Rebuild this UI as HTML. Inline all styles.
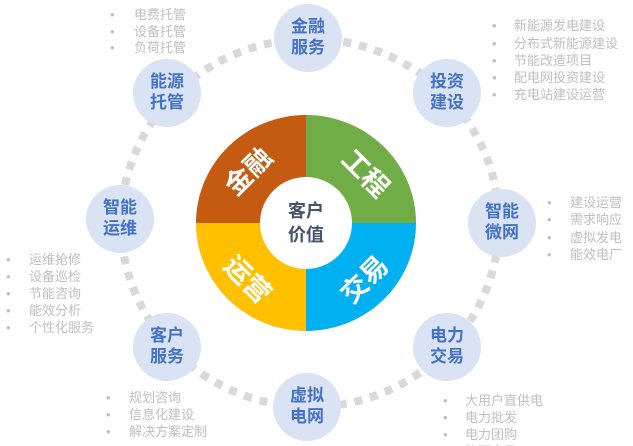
<!DOCTYPE html>
<html><head><meta charset="utf-8"><style>
html,body{margin:0;padding:0;background:#fff;}
svg{display:block;}
text{font-family:"Liberation Sans","Noto Sans CJK SC",sans-serif;}
.n{fill:#dae3f3;}
.nt{fill:#4472c4;font-size:17px;font-weight:bold;text-anchor:middle;}
.l{fill:#bfbfbf;font-size:13px;}
.p{fill:#fff;font-size:27px;font-weight:bold;text-anchor:middle;}
</style></head><body>
<svg width="633" height="446" viewBox="0 0 633 446" xmlns="http://www.w3.org/2000/svg">
<ellipse cx="310" cy="223" rx="189" ry="184" fill="none" stroke="#d9d9d9" stroke-width="8" stroke-dasharray="8 8"/>
<!-- pie -->
<g transform="translate(306,223)">
<path d="M0,0 L0,-108 A110,108 0 0 0 -110,0 Z" fill="#c55a11"/>
<path d="M0,0 L0,-108 A110,108 0 0 1 110,0 Z" fill="#70ad47"/>
<path d="M0,0 L110,0 A110,108 0 0 1 0,108 Z" fill="#00b0f0"/>
<path d="M0,0 L0,108 A110,108 0 0 1 -110,0 Z" fill="#ffc000"/>
<circle r="46" fill="#fff"/>
<text x="0" y="-6" font-size="18" font-weight="bold" fill="#44546a" text-anchor="middle">客户</text>
<text x="0" y="18" font-size="18" font-weight="bold" fill="#44546a" text-anchor="middle">价值</text>
<text class="p" transform="translate(-58,-52) rotate(-45)" y="10">金融</text>
<text class="p" transform="translate(60,-50) rotate(45)" y="10">工程</text>
<text class="p" transform="translate(58,56) rotate(-45)" y="10">交易</text>
<text class="p" transform="translate(-58,56) rotate(45)" y="10">运营</text>
</g>
<!-- nodes -->
<g>
<circle class="n" cx="308" cy="38" r="34"/><text class="nt" x="308" y="32">金融</text><text class="nt" x="308" y="53">服务</text>
<circle class="n" cx="447" cy="93" r="34"/><text class="nt" x="447" y="87">投资</text><text class="nt" x="447" y="108">建设</text>
<circle class="n" cx="502" cy="223" r="34"/><text class="nt" x="502" y="217">智能</text><text class="nt" x="502" y="238">微网</text>
<circle class="n" cx="447" cy="347" r="34"/><text class="nt" x="447" y="341">电力</text><text class="nt" x="447" y="362">交易</text>
<circle class="n" cx="307" cy="407" r="34"/><text class="nt" x="307" y="401">虚拟</text><text class="nt" x="307" y="422">电网</text>
<circle class="n" cx="167" cy="347" r="34"/><text class="nt" x="167" y="341">客户</text><text class="nt" x="167" y="362">服务</text>
<circle class="n" cx="120" cy="219" r="34"/><text class="nt" x="120" y="213">智能</text><text class="nt" x="120" y="234">运维</text>
<circle class="n" cx="167" cy="93" r="34"/><text class="nt" x="167" y="87">能源</text><text class="nt" x="167" y="108">托管</text>
</g>
<!-- lists -->
<g class="l">
<text x="110" y="19">•</text><text x="134" y="19">电费托管</text>
<text x="110" y="36">•</text><text x="134" y="36">设备托管</text>
<text x="110" y="52">•</text><text x="134" y="52">负荷托管</text>

<text x="492" y="30">•</text><text x="514" y="30">新能源发电建设</text>
<text x="492" y="48">•</text><text x="514" y="48">分布式新能源建设</text>
<text x="492" y="65">•</text><text x="514" y="65">节能改造项目</text>
<text x="492" y="82">•</text><text x="514" y="82">配电网投资建设</text>
<text x="492" y="99">•</text><text x="514" y="99">充电站建设运营</text>

<text x="547" y="207">•</text><text x="570" y="207">建设运营</text>
<text x="547" y="224">•</text><text x="570" y="224">需求响应</text>
<text x="547" y="242">•</text><text x="570" y="242">虚拟发电</text>
<text x="547" y="259">•</text><text x="570" y="259">能效电厂</text>

<text x="6" y="264">•</text><text x="29" y="264">运维抢修</text>
<text x="6" y="281">•</text><text x="29" y="281">设备巡检</text>
<text x="6" y="298">•</text><text x="29" y="298">节能咨询</text>
<text x="6" y="315">•</text><text x="29" y="315">能效分析</text>
<text x="6" y="332">•</text><text x="29" y="332">个性化服务</text>

<text x="106" y="402">•</text><text x="129" y="402">规划咨询</text>
<text x="106" y="419">•</text><text x="129" y="419">信息化建设</text>
<text x="106" y="436">•</text><text x="129" y="436">解决方案定制</text>

<text x="443" y="405">•</text><text x="465" y="405">大用户直供电</text>
<text x="443" y="422">•</text><text x="465" y="422">电力批发</text>
<text x="443" y="439">•</text><text x="465" y="439">电力团购</text>
<text x="443" y="456">•</text><text x="465" y="456">能源交易</text>
</g>
</svg>
</body></html>
